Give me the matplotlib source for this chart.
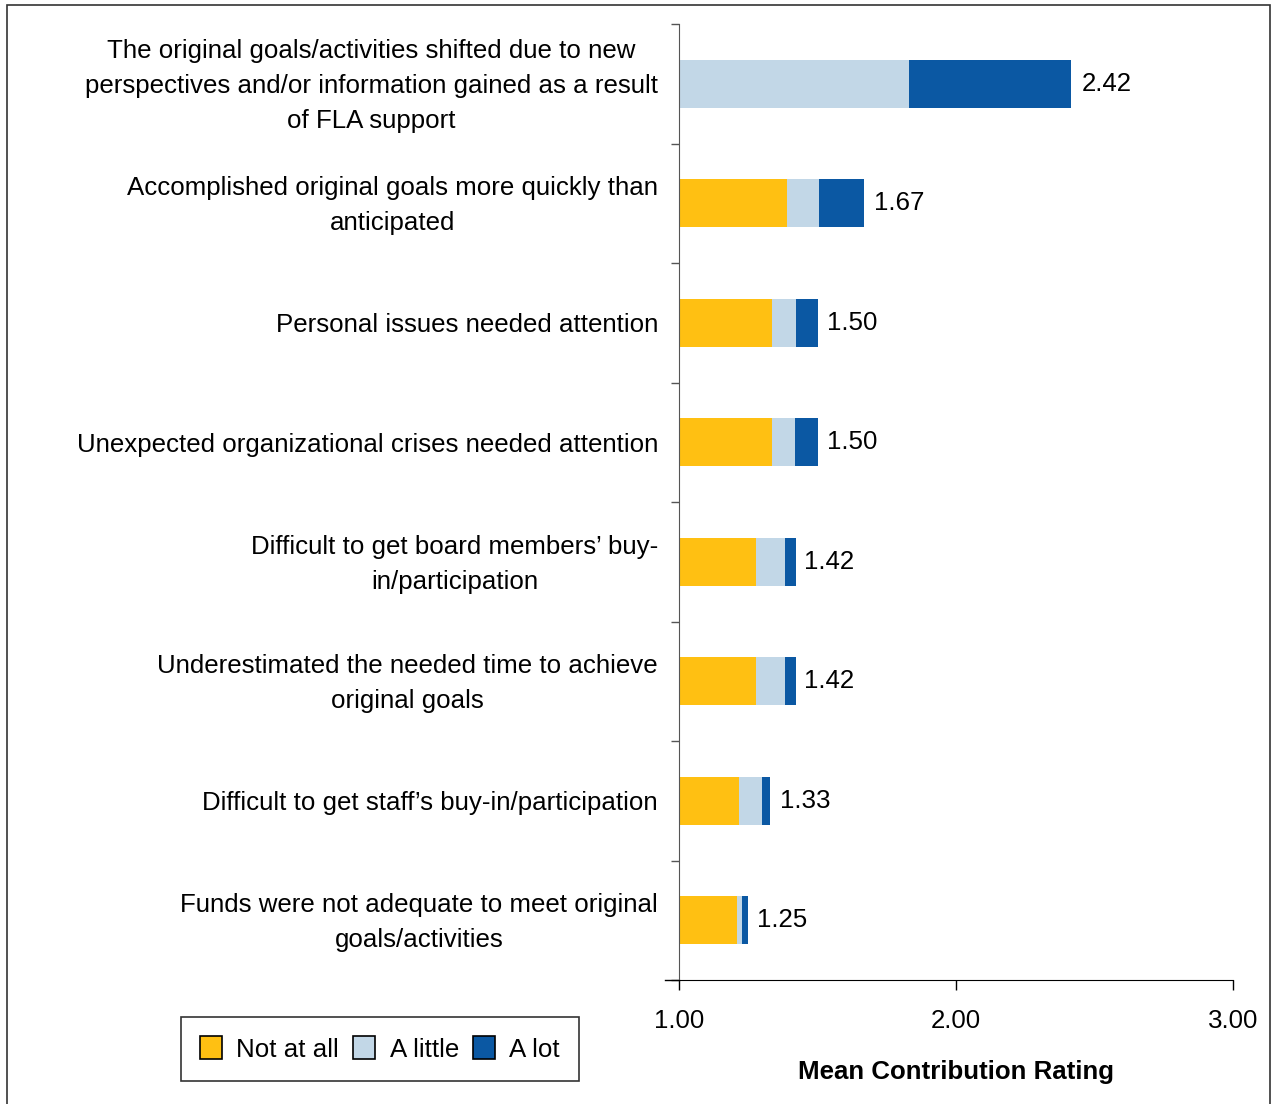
import matplotlib
matplotlib.use("Agg")
import matplotlib.pyplot as plt
from matplotlib.patches import Rectangle, Patch
from matplotlib.lines import Line2D
from matplotlib.transforms import blended_transform_factory, ScaledTranslation

plt.rcParams['font.family'] = ['Liberation Sans', 'DejaVu Sans']

categories = [
    "The original goals/activities shifted due to new\nperspectives and/or information gained as a result\nof FLA support",
    "Accomplished original goals more quickly than\nanticipated",
    "Personal issues needed attention",
    "Unexpected organizational crises needed attention",
    "Difficult to get board members\u2019 buy-\nin/participation",
    "Underestimated the needed time to achieve\noriginal goals",
    "Difficult to get staff\u2019s buy-in/participation",
    "Funds were not adequate to meet original\ngoals/activities",
]
not_at_all = [0.00, 0.390, 0.336, 0.336, 0.277, 0.277, 0.217, 0.209]
a_little = [0.830, 0.116, 0.087, 0.083, 0.106, 0.106, 0.083, 0.018]
a_lot = [0.585, 0.162, 0.079, 0.083, 0.040, 0.040, 0.029, 0.022]
means = [2.42, 1.67, 1.50, 1.50, 1.42, 1.42, 1.33, 1.25]
series_names = ["Not at all", "A little", "A lot"]
colors = ["#FFC012", "#C2D7E7", "#0B58A3"]
base = 1.0
xticks = [1.0, 2.0, 3.0]

W, H = 1277, 1104
fig = plt.figure(figsize=(W / 100, H / 100), dpi=100)
ax = fig.add_axes([679 / W, 1 - 980 / H, (1233 - 679) / W, (980 - 24) / H])

FS = 18.6
n = len(categories)
ys = list(range(n))
left = [base] * n
for vals, col, name in zip([not_at_all, a_little, a_lot], colors, series_names):
    ax.barh(ys, vals, left=left, height=0.40, color=col, linewidth=0, label=name)
    left = [l + v for l, v in zip(left, vals)]

for y, m in zip(ys, means):
    ax.text(m + 0.033, y, f"{m:.2f}", va='center', ha='left', fontsize=FS)

ax.set_ylim(n - 0.5, -0.5)
ax.set_xlim(1.0, 3.0)
ax.set_yticks(ys)
ax.set_yticklabels([''] * n)
ax.tick_params(axis='y', which='major', length=0)
ax.set_yticks([i - 0.5 for i in range(n + 1)], minor=True)
ax.tick_params(axis='y', which='minor', length=6, width=1, color='#555555', direction='out')

# category labels
blend = blended_transform_factory(ax.transAxes, ax.transData)
for y, lab in zip(ys, categories):
    tr = blend + ScaledTranslation(-21 / 100, -2.5 / 100, fig.dpi_scale_trans)
    ax.text(0, y, lab, transform=tr, ha='right', va='center', multialignment='center',
            fontsize=FS, linespacing=1.58)

ax.set_xticks(xticks)
ax.set_xticklabels([f"{t:.2f}" for t in xticks], fontsize=FS)
ax.tick_params(axis='x', length=7, width=1, direction='out', pad=14)
ax.set_xlabel("Mean Contribution Rating", fontsize=FS, fontweight='bold', labelpad=19)

for s in ['top', 'right']:
    ax.spines[s].set_visible(False)
ax.spines['left'].set_color('#555555')
ax.spines['bottom'].set_color('black')
ax.add_line(Line2D([-14 / 554, 0], [0, 0], transform=ax.transAxes, color='black', lw=1, clip_on=False))

handles = [Patch(facecolor=c, edgecolor='black', linewidth=1.2) for c in colors]
leg = fig.legend(handles, series_names, loc='center', bbox_to_anchor=(380 / W, 1 - 1049 / H),
                 ncol=3, fontsize=FS, frameon=True, fancybox=False, edgecolor='black',
                 handlelength=0.85, handleheight=1.0, handletextpad=0.55, columnspacing=0.55,
                 borderpad=0.75)
leg.get_frame().set_linewidth(1.2)

fig.patches.append(Rectangle((7 / W, -0.01), (1270 - 7) / W, 1.01 - 5 / H, transform=fig.transFigure,
                             fill=False, edgecolor='#333333', linewidth=1.2))

fig.savefig("out.png", dpi=100)
